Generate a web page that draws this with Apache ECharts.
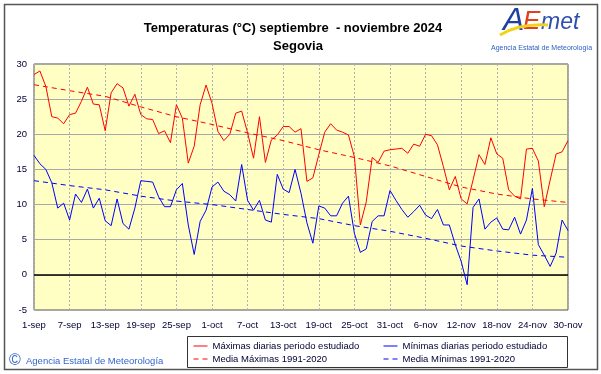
<!DOCTYPE html>
<html>
<head>
<meta charset="utf-8">
<script src="https://cdn.jsdelivr.net/npm/echarts@6/dist/echarts.min.js"></script>
<style>
html,body{margin:0;padding:0;background:#fff;}
#chart{width:601px;height:374px;}
</style>
</head>
<body>
<div id="chart"></div>
<script>
// ---- data ----
var months = ['sep', 'oct', 'nov'];
var monthDays = [30, 31, 30];
var categories = [];
months.forEach(function (m, i) {
  for (var d = 1; d <= monthDays[i]; d++) categories.push(d + '-' + m);
});

var maxDaily = [28.5, 29.0, 26.8, 22.5, 22.3, 21.5, 22.8, 23.0, 24.7, 26.7,
  24.3, 24.2, 20.5, 25.9, 27.2, 26.6, 24.0, 25.7, 22.8, 22.2,
  22.1, 20.1, 20.5, 18.8, 24.2, 22.3, 15.9, 18.3, 24.2, 27.0,
  24.4, 20.4, 19.1, 20.0, 23.0, 23.3, 20.2, 16.6, 22.5, 16.0,
  19.2, 19.9, 21.1, 21.1, 20.3, 20.8, 13.3, 13.8, 17.1, 20.3,
  21.5, 20.6, 20.3, 19.9, 16.8, 7.1, 10.4, 16.7, 16.0, 17.6,
  17.8, 17.9, 18.0, 17.3, 18.6, 18.3, 20.0, 19.8, 18.5, 15.4,
  12.1, 14.0, 10.8, 10.1, 13.5, 17.1, 15.7, 19.5, 17.2, 16.6,
  12.1, 11.2, 10.8, 17.9, 18.0, 16.2, 9.7, 13.5, 17.2, 17.5, 19.1];

var minDaily = [17.0, 15.8, 15.0, 13.1, 9.5, 10.2, 7.8, 11.5, 10.3, 12.2,
  9.5, 10.9, 7.7, 7.0, 10.8, 7.3, 6.5, 9.5, 13.4, 13.3,
  13.2, 11.1, 9.7, 9.7, 12.1, 13.0, 7.1, 2.9, 7.6, 9.2,
  12.5, 13.2, 11.9, 11.4, 10.5, 15.7, 10.6, 9.2, 10.6, 7.8,
  7.5, 14.3, 12.2, 11.7, 15.0, 11.6, 7.4, 4.5, 9.8, 9.5,
  8.4, 8.4, 10.2, 11.2, 5.9, 3.2, 3.7, 7.6, 8.4, 8.4,
  12.0, 10.6, 9.3, 8.2, 9.0, 9.9, 8.5, 8.0, 9.3, 7.1,
  7.1, 4.3, 1.9, -1.4, 9.6, 10.8, 6.5, 7.5, 8.1, 6.5,
  6.4, 8.2, 5.8, 7.8, 12.3, 4.3, 2.8, 1.2, 3.1, 7.8, 6.3];

// climatological means read at these days
var normalDays = ['1-sep', '7-sep', '13-sep', '19-sep', '25-sep', '1-oct', '7-oct', '13-oct',
  '19-oct', '25-oct', '31-oct', '6-nov', '12-nov', '18-nov', '24-nov', '30-nov'];
var meanMax = [27.05, 26.2, 25.4, 23.9, 22.5, 21.4, 20.2, 19.1, 17.8, 16.7, 15.5, 14.0, 12.5, 11.5, 10.8, 10.3];
var meanMin = [13.4, 12.7, 12.1, 11.2, 10.5, 10.0, 9.3, 8.6, 8.0, 7.0, 6.2, 5.2, 4.1, 3.4, 2.8, 2.5];

var yMin = -5, yMax = 30, yStep = 5;

var names = ['Máximas diarias periodo estudiado', 'Media Máximas 1991-2020',
  'Mínimas diarias periodo estudiado', 'Media Mínimas 1991-2020'];

var FONT = 'Liberation Sans, Arial, sans-serif';
var TXT = '#000033';
var FS = 9.5;

function pairs(days, vals) {
  return days.map(function (d, i) { return [d, vals[i]]; });
}

var legendCommon = {orient: 'vertical', top: 341, padding: 0, itemWidth: 14, itemHeight: 11, itemGap: 3,
  itemStyle: {opacity: 0}, lineStyle: {width: 1},
  textStyle: {fontSize: FS, color: TXT, fontFamily: FONT}};

var chart = echarts.init(document.getElementById('chart'), null, {renderer: 'canvas'});
chart.setOption({
  animation: false,
  backgroundColor: '#ffffff',
  textStyle: {fontFamily: FONT},
  title: [
    {text: 'Temperaturas (°C) septiembre  - noviembre 2024', left: 288, top: 17, textAlign: 'center',
      textStyle: {fontSize: 13, fontWeight: 'bold', color: '#000000', fontFamily: FONT}},
    {text: 'Segovia', left: 293, top: 35, textAlign: 'center',
      textStyle: {fontSize: 13, fontWeight: 'bold', color: '#000000', fontFamily: FONT}}
  ],
  grid: {left: 34, top: 64, width: 534, height: 246, show: true,
    backgroundColor: '#ffffc4', borderColor: '#505050', borderWidth: 1},
  legend: [
    Object.assign({left: 193, data: [names[0], names[1]]}, legendCommon),
    Object.assign({left: 383, data: [names[2], names[3]]}, legendCommon)
  ],
  xAxis: {
    type: 'category', data: categories, boundaryGap: false,
    axisLine: {show: false}, axisTick: {show: false},
    axisLabel: {interval: 5, color: TXT, fontSize: FS, margin: 10, fontFamily: FONT},
    splitLine: {show: true, interval: 5, lineStyle: {color: '#b0b0b0', type: [2, 2], width: 1}}
  },
  yAxis: {
    type: 'value', min: yMin, max: yMax, interval: yStep,
    axisLine: {show: false}, axisTick: {show: false},
    axisLabel: {color: TXT, fontSize: FS, margin: 7, fontFamily: FONT},
    splitLine: {show: true, lineStyle: {color: '#a8a8a8', width: 1}}
  },
  series: [
    {name: names[0], type: 'line', data: maxDaily, symbol: 'none', z: 5,
      lineStyle: {color: '#ff0000', width: 1}, itemStyle: {color: '#ff0000'},
      markLine: {silent: true, symbol: 'none', label: {show: false},
        lineStyle: {color: '#000000', type: 'solid', width: 1.5}, data: [{yAxis: 0}]}},
    {name: names[1], type: 'line', data: pairs(normalDays, meanMax), symbol: 'none', z: 4,
      lineStyle: {color: '#ff0000', width: 1, type: [5, 4]}, itemStyle: {color: '#ff0000'}},
    {name: names[2], type: 'line', data: minDaily, symbol: 'none', z: 5,
      lineStyle: {color: '#0000ff', width: 1}, itemStyle: {color: '#0000ff'}},
    {name: names[3], type: 'line', data: pairs(normalDays, meanMin), symbol: 'none', z: 4,
      lineStyle: {color: '#0000ff', width: 1, type: [5, 4]}, itemStyle: {color: '#0000ff'}}
  ],
  graphic: [
    {type: 'rect', shape: {x: 4.5, y: 4.5, width: 593, height: 365}, silent: true, z: -1,
      style: {fill: null, stroke: '#555555', lineWidth: 1.5}},
    {type: 'rect', shape: {x: 187.5, y: 336.5, width: 380, height: 31}, silent: true,
      style: {fill: '#ffffff', stroke: '#333333', lineWidth: 1}, z: -1},
    {type: 'text', left: 9, top: 353, style: {text: '©', font: '16px ' + FONT, fill: '#3366cc'}},
    {type: 'text', left: 26, top: 356, style: {text: 'Agencia Estatal de Meteorología', font: FS + 'px ' + FONT, fill: '#3366cc'}},
    // AEMET logo approximation
    {type: 'text', left: 503, top: 5, style: {text: 'A', font: 'italic 32px ' + FONT, fill: '#2040a0'}},
    {type: 'text', left: 523, top: 9, style: {text: 'E', font: 'italic 26px ' + FONT, fill: '#e04020'}},
    {type: 'text', left: 541, top: 11, style: {text: 'met', font: 'italic 23px ' + FONT, fill: '#3050b0'}},
    {type: 'bezierCurve', shape: {x1: 500, y1: 35, cpx1: 515, cpy1: 26, cpx2: 530, cpy2: 24, x2: 548, y2: 25},
      silent: true, z: 10, style: {stroke: '#f2d21a', lineWidth: 3, fill: null}},
    {type: 'text', left: 491, top: 45, style: {text: 'Agencia Estatal de Meteorología', font: '7px ' + FONT, fill: '#3060c0'}}
  ]
});
</script>
</body>
</html>
